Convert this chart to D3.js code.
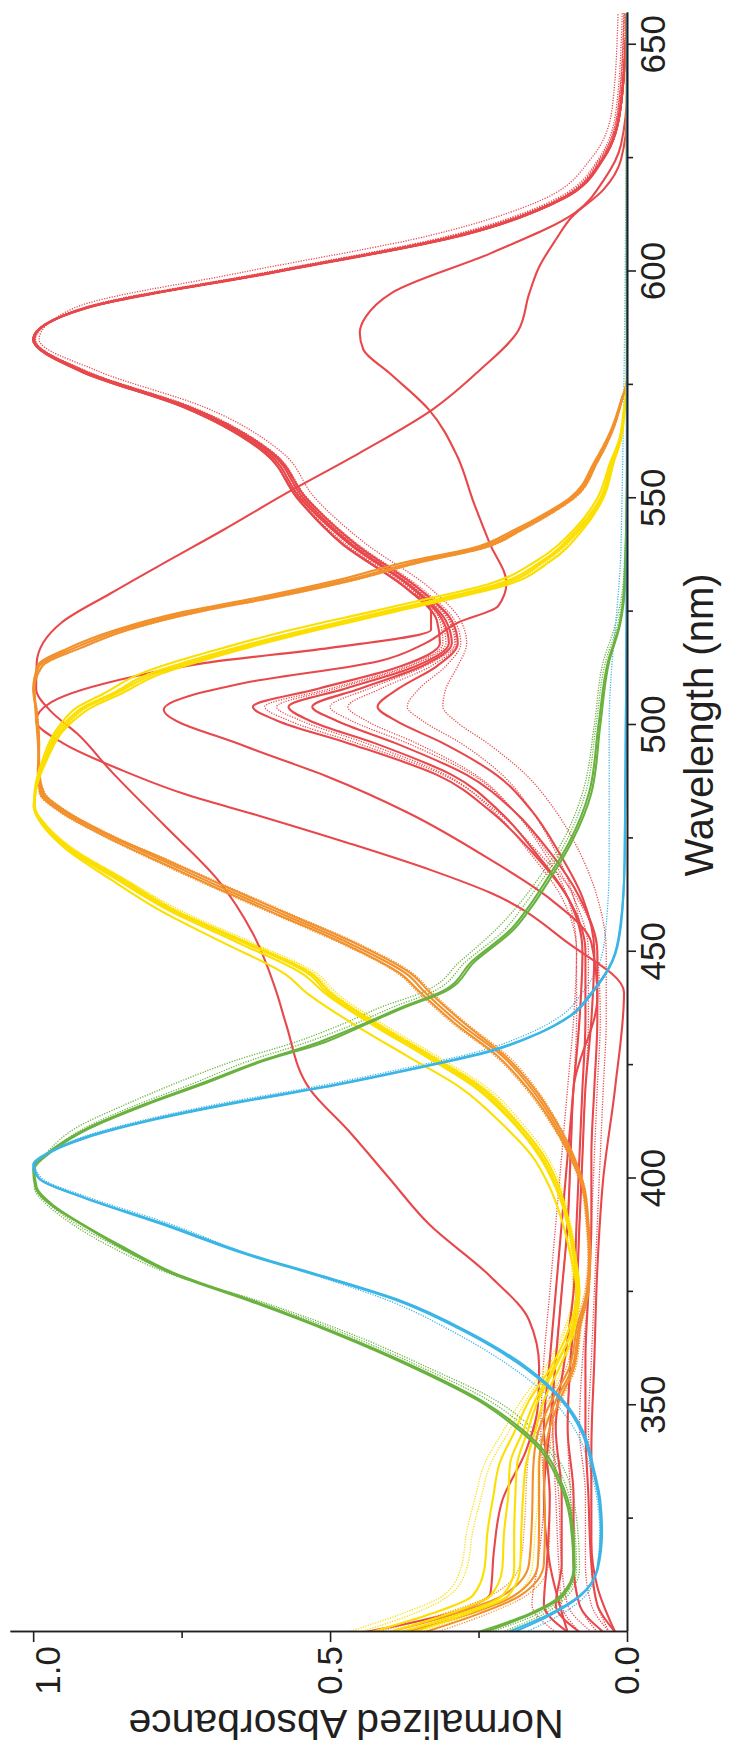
<!DOCTYPE html>
<html>
<head>
<meta charset="utf-8">
<script src="https://cdn.jsdelivr.net/npm/d3@7"></script>
<style>
  html, body { margin: 0; padding: 0; background: #fff; }
  svg { display: block; }
</style>
</head>
<body>
<div id="chart"></div>
<script>
// ---- data (wavelength in nm, normalized absorbance) ----

const greenNm = [300, 304, 308, 314, 325, 334, 340, 345, 351, 358, 366, 373, 379, 385, 390, 394, 398, 402, 406, 411,
  416, 421, 426, 430, 434, 438, 441, 448, 455, 460, 466, 474, 485, 500, 514, 522, 532, 560, 657];
const greenSolid = [
  [0.24, 0.16, 0.108, 0.088, 0.093, 0.114, 0.14, 0.18, 0.245, 0.35, 0.49, 0.63, 0.76, 0.85, 0.918, 0.965, 0.994, 0.998, 0.968, 0.906,
   0.815, 0.71, 0.61, 0.51, 0.44, 0.37, 0.31, 0.255, 0.19, 0.16, 0.13, 0.094, 0.06, 0.045, 0.03, 0.012, 0.003, 0.0, 0.0],
  [0.25, 0.165, 0.112, 0.09, 0.096, 0.118, 0.145, 0.186, 0.25, 0.355, 0.495, 0.635, 0.765, 0.855, 0.92, 0.968, 0.996, 1.0, 0.972, 0.91,
   0.82, 0.716, 0.615, 0.52, 0.445, 0.375, 0.315, 0.26, 0.195, 0.165, 0.135, 0.098, 0.064, 0.048, 0.032, 0.013, 0.004, 0.0, 0.0]
];
const greenDotted = [
  [0.21, 0.14, 0.1, 0.08, 0.085, 0.1, 0.125, 0.16, 0.22, 0.33, 0.47, 0.62, 0.77, 0.87, 0.935, 0.975, 0.998, 0.998, 0.975, 0.93,
   0.85, 0.76, 0.66, 0.56, 0.48, 0.41, 0.345, 0.28, 0.22, 0.185, 0.15, 0.11, 0.075, 0.055, 0.04, 0.02, 0.006, 0.0, 0.0],
  [0.23, 0.15, 0.105, 0.085, 0.09, 0.108, 0.132, 0.17, 0.232, 0.34, 0.48, 0.625, 0.765, 0.86, 0.928, 0.97, 0.996, 0.999, 0.97, 0.915,
   0.83, 0.73, 0.635, 0.54, 0.46, 0.39, 0.33, 0.27, 0.205, 0.175, 0.142, 0.104, 0.07, 0.052, 0.036, 0.016, 0.005, 0.0, 0.0]
];

const blueNm = [300, 304, 308, 314, 322, 329, 336, 344, 351, 358, 366, 373, 378, 383, 390, 396, 400, 403, 406, 409,
  413, 417, 420, 424, 428, 432, 436, 441, 448, 456, 470, 500, 540, 657];
const blueSolid = [
  [0.20, 0.13, 0.08, 0.049, 0.042, 0.045, 0.056, 0.073, 0.107, 0.165, 0.265, 0.38, 0.5, 0.63, 0.78, 0.918, 0.99, 1.0, 0.97, 0.915,
   0.80, 0.65, 0.52, 0.37, 0.235, 0.15, 0.095, 0.06, 0.025, 0.011, 0.004, 0.002, 0.0, 0.0],
  [0.19, 0.125, 0.078, 0.05, 0.044, 0.047, 0.058, 0.076, 0.11, 0.17, 0.27, 0.385, 0.505, 0.635, 0.785, 0.92, 0.99, 0.998, 0.968, 0.91,
   0.795, 0.645, 0.515, 0.365, 0.23, 0.148, 0.093, 0.058, 0.024, 0.01, 0.004, 0.002, 0.0, 0.0]
];
const blueDotted = [
  [0.17, 0.11, 0.07, 0.05, 0.046, 0.05, 0.062, 0.085, 0.125, 0.19, 0.29, 0.4, 0.51, 0.63, 0.77, 0.91, 0.985, 0.997, 0.97, 0.92,
   0.81, 0.665, 0.535, 0.385, 0.25, 0.165, 0.11, 0.075, 0.045, 0.035, 0.03, 0.03, 0.01, 0.0]
];

const yellowNm = [300, 304, 308, 314, 322, 330, 337, 344, 351, 358, 366, 375, 383, 390, 398, 405, 412, 420, 427, 434,
  441, 445, 452, 459, 466, 473, 478, 482, 486, 492, 500, 504, 507, 511, 514, 517, 521, 525, 528, 531,
  536, 543, 550, 558, 563, 569, 576, 657];
const yellowSolid = [
  [0.40, 0.30, 0.23, 0.21, 0.207, 0.2, 0.197, 0.176, 0.155, 0.125, 0.093, 0.08, 0.087, 0.097, 0.114, 0.14, 0.183, 0.245, 0.33, 0.42,
   0.50, 0.53, 0.64, 0.76, 0.85, 0.94, 0.98, 0.998, 0.995, 0.98, 0.945, 0.91, 0.86, 0.80, 0.73, 0.65, 0.53, 0.40, 0.30, 0.21,
   0.14, 0.08, 0.042, 0.025, 0.011, 0.005, 0.0, 0.0],
  [0.36, 0.27, 0.2, 0.18, 0.178, 0.175, 0.17, 0.155, 0.14, 0.115, 0.09, 0.082, 0.09, 0.1, 0.12, 0.148, 0.19, 0.255, 0.34, 0.43,
   0.51, 0.545, 0.655, 0.77, 0.86, 0.945, 0.982, 0.999, 0.995, 0.978, 0.94, 0.9, 0.85, 0.79, 0.72, 0.64, 0.52, 0.39, 0.29, 0.2,
   0.13, 0.075, 0.04, 0.022, 0.01, 0.004, 0.0, 0.0],
  [0.43, 0.33, 0.26, 0.24, 0.235, 0.225, 0.215, 0.19, 0.165, 0.13, 0.1, 0.085, 0.09, 0.1, 0.118, 0.145, 0.188, 0.25, 0.335, 0.425,
   0.505, 0.535, 0.645, 0.765, 0.855, 0.942, 0.98, 0.997, 0.996, 0.982, 0.95, 0.915, 0.865, 0.81, 0.74, 0.66, 0.54, 0.41, 0.31, 0.22,
   0.145, 0.085, 0.045, 0.026, 0.012, 0.005, 0.0, 0.0],
  [0.38, 0.28, 0.21, 0.19, 0.19, 0.188, 0.185, 0.168, 0.15, 0.122, 0.095, 0.085, 0.095, 0.108, 0.13, 0.16, 0.21, 0.28, 0.37, 0.46,
   0.54, 0.575, 0.68, 0.785, 0.87, 0.948, 0.985, 0.999, 0.997, 0.985, 0.955, 0.925, 0.88, 0.825, 0.76, 0.68, 0.565, 0.43, 0.33, 0.235,
   0.155, 0.09, 0.05, 0.028, 0.013, 0.006, 0.0, 0.0]
];
const yellowDotted = [
  [0.45, 0.36, 0.3, 0.27, 0.26, 0.245, 0.23, 0.2, 0.17, 0.135, 0.105, 0.09, 0.092, 0.1, 0.115, 0.14, 0.18, 0.24, 0.325, 0.415,
   0.495, 0.525, 0.635, 0.755, 0.845, 0.935, 0.978, 0.997, 0.995, 0.98, 0.948, 0.912, 0.862, 0.805, 0.735, 0.655, 0.535, 0.405, 0.305, 0.215,
   0.142, 0.082, 0.043, 0.024, 0.011, 0.005, 0.0, 0.0],
  [0.35, 0.26, 0.19, 0.16, 0.155, 0.15, 0.15, 0.14, 0.13, 0.11, 0.088, 0.08, 0.085, 0.095, 0.11, 0.135, 0.175, 0.235, 0.32, 0.41,
   0.49, 0.52, 0.63, 0.75, 0.845, 0.935, 0.978, 0.997, 0.994, 0.978, 0.942, 0.905, 0.855, 0.795, 0.725, 0.645, 0.525, 0.395, 0.295, 0.205,
   0.135, 0.078, 0.041, 0.023, 0.01, 0.004, 0.0, 0.0],
  [0.47, 0.38, 0.31, 0.28, 0.27, 0.255, 0.24, 0.21, 0.178, 0.14, 0.108, 0.092, 0.094, 0.102, 0.118, 0.142, 0.182, 0.242, 0.328, 0.418,
   0.498, 0.528, 0.64, 0.758, 0.848, 0.938, 0.98, 0.998, 0.996, 0.982, 0.95, 0.915, 0.868, 0.812, 0.742, 0.662, 0.542, 0.412, 0.31, 0.22,
   0.145, 0.084, 0.044, 0.025, 0.011, 0.005, 0.0, 0.0]
];

const orangeNm = [300, 304, 308, 315, 325, 336, 344, 351, 358, 368, 375, 383, 390, 398, 405, 412, 420, 427, 434, 441,
  445, 452, 458, 464, 470, 476, 481, 485, 490, 496, 503, 508, 513, 517, 521, 525, 528, 532, 536, 539,
  543, 547, 550, 558, 565, 572, 576, 657];
const orangeSolid = [
  [0.37, 0.265, 0.19, 0.15, 0.148, 0.148, 0.14, 0.12, 0.093, 0.08, 0.066, 0.063, 0.066, 0.073, 0.093, 0.121, 0.162, 0.21, 0.28, 0.34,
   0.37, 0.47, 0.575, 0.68, 0.78, 0.88, 0.95, 0.985, 0.99, 0.99, 0.995, 1.0, 0.99, 0.93, 0.85, 0.73, 0.61, 0.47, 0.355, 0.25,
   0.183, 0.128, 0.093, 0.052, 0.025, 0.008, 0.0, 0.0],
  [0.34, 0.25, 0.18, 0.14, 0.138, 0.14, 0.132, 0.114, 0.09, 0.078, 0.065, 0.062, 0.065, 0.072, 0.09, 0.117, 0.157, 0.205, 0.272, 0.332,
   0.362, 0.46, 0.565, 0.67, 0.772, 0.875, 0.945, 0.982, 0.99, 0.992, 0.996, 0.998, 0.985, 0.92, 0.84, 0.72, 0.6, 0.46, 0.345, 0.243,
   0.178, 0.124, 0.09, 0.05, 0.024, 0.008, 0.0, 0.0],
  [0.40, 0.29, 0.21, 0.165, 0.16, 0.158, 0.15, 0.127, 0.098, 0.083, 0.068, 0.064, 0.067, 0.075, 0.096, 0.125, 0.168, 0.218, 0.288, 0.348,
   0.38, 0.48, 0.585, 0.69, 0.79, 0.887, 0.955, 0.988, 0.992, 0.99, 0.994, 0.999, 0.993, 0.94, 0.86, 0.745, 0.625, 0.485, 0.37, 0.26,
   0.19, 0.133, 0.097, 0.055, 0.027, 0.009, 0.0, 0.0]
];
const orangeDotted = [
  [0.42, 0.31, 0.23, 0.18, 0.172, 0.168, 0.158, 0.133, 0.103, 0.087, 0.071, 0.066, 0.069, 0.077, 0.098, 0.128, 0.172, 0.222, 0.292, 0.352,
   0.384, 0.485, 0.59, 0.695, 0.795, 0.89, 0.958, 0.99, 0.993, 0.99, 0.993, 0.998, 0.99, 0.935, 0.858, 0.742, 0.622, 0.482, 0.367, 0.257,
   0.188, 0.132, 0.096, 0.054, 0.026, 0.009, 0.0, 0.0],
  [0.32, 0.235, 0.17, 0.132, 0.13, 0.132, 0.126, 0.11, 0.087, 0.076, 0.064, 0.061, 0.064, 0.071, 0.089, 0.115, 0.154, 0.2, 0.268, 0.328,
   0.358, 0.455, 0.56, 0.665, 0.768, 0.872, 0.943, 0.98, 0.99, 0.991, 0.995, 0.997, 0.983, 0.918, 0.836, 0.716, 0.596, 0.456, 0.342, 0.24,
   0.176, 0.122, 0.088, 0.049, 0.023, 0.007, 0.0, 0.0]
];

const redNm = [300, 306, 315, 330, 345, 360, 375, 390, 405, 420, 435, 450, 462, 472, 481, 489, 496, 501, 504, 508,
  513, 518, 523, 530, 540, 550, 560, 570, 578, 585, 592, 600, 608, 616, 625, 636, 657];
const redSolid = [
  [0.08, 0.12, 0.11, 0.11, 0.12, 0.105, 0.09, 0.085, 0.08, 0.075, 0.07, 0.07, 0.1, 0.16, 0.23, 0.32, 0.47, 0.59, 0.63, 0.52,
   0.38, 0.315, 0.32, 0.37, 0.48, 0.555, 0.61, 0.745, 0.92, 1.0, 0.91, 0.59, 0.28, 0.11, 0.04, 0.011, 0.0],
  [0.10, 0.14, 0.135, 0.13, 0.14, 0.13, 0.12, 0.11, 0.1, 0.09, 0.08, 0.075, 0.1, 0.155, 0.215, 0.295, 0.425, 0.535, 0.57, 0.475,
   0.355, 0.3, 0.31, 0.36, 0.468, 0.55, 0.605, 0.742, 0.918, 1.0, 0.912, 0.59, 0.28, 0.11, 0.04, 0.011, 0.0],
  [0.02, 0.05, 0.06, 0.065, 0.07, 0.07, 0.065, 0.06, 0.06, 0.055, 0.05, 0.05, 0.08, 0.13, 0.19, 0.27, 0.39, 0.49, 0.53, 0.45,
   0.345, 0.295, 0.305, 0.358, 0.465, 0.545, 0.6, 0.738, 0.915, 0.999, 0.908, 0.585, 0.276, 0.108, 0.039, 0.011, 0.0],
  [0.04, 0.08, 0.09, 0.09, 0.1, 0.095, 0.085, 0.08, 0.075, 0.07, 0.06, 0.055, 0.075, 0.115, 0.16, 0.22, 0.31, 0.39, 0.42, 0.385,
   0.32, 0.285, 0.295, 0.35, 0.458, 0.54, 0.597, 0.735, 0.915, 1.0, 0.91, 0.588, 0.278, 0.108, 0.039, 0.011, 0.0]
];
const redDotted = [
  [0.03, 0.06, 0.07, 0.07, 0.08, 0.075, 0.065, 0.06, 0.055, 0.05, 0.045, 0.05, 0.085, 0.15, 0.22, 0.31, 0.455, 0.57, 0.61, 0.5,
   0.37, 0.31, 0.315, 0.365, 0.475, 0.552, 0.605, 0.74, 0.915, 0.998, 0.915, 0.6, 0.29, 0.115, 0.045, 0.015, 0.005],
  [0.06, 0.1, 0.11, 0.115, 0.125, 0.12, 0.11, 0.1, 0.095, 0.09, 0.085, 0.085, 0.11, 0.165, 0.225, 0.305, 0.44, 0.55, 0.59, 0.49,
   0.365, 0.305, 0.312, 0.362, 0.47, 0.548, 0.6, 0.738, 0.912, 0.997, 0.91, 0.585, 0.275, 0.108, 0.04, 0.012, 0.002],
  [0.05, 0.08, 0.09, 0.095, 0.1, 0.095, 0.085, 0.08, 0.075, 0.07, 0.065, 0.065, 0.09, 0.135, 0.19, 0.26, 0.37, 0.465, 0.50, 0.435,
   0.34, 0.29, 0.3, 0.355, 0.462, 0.543, 0.598, 0.735, 0.912, 0.998, 0.91, 0.59, 0.285, 0.112, 0.042, 0.014, 0.004],
  [0.12, 0.16, 0.15, 0.14, 0.145, 0.14, 0.13, 0.12, 0.11, 0.1, 0.09, 0.085, 0.1, 0.14, 0.19, 0.255, 0.355, 0.44, 0.47, 0.415,
   0.33, 0.288, 0.298, 0.352, 0.46, 0.54, 0.595, 0.732, 0.91, 0.997, 0.912, 0.595, 0.29, 0.115, 0.044, 0.015, 0.005],
  [0.08, 0.11, 0.115, 0.12, 0.125, 0.12, 0.11, 0.1, 0.095, 0.09, 0.08, 0.075, 0.09, 0.12, 0.16, 0.21, 0.28, 0.345, 0.37, 0.35,
   0.305, 0.28, 0.29, 0.345, 0.455, 0.538, 0.595, 0.73, 0.91, 0.996, 0.915, 0.6, 0.295, 0.12, 0.047, 0.018, 0.008],
  [0.03, 0.05, 0.06, 0.06, 0.065, 0.06, 0.055, 0.05, 0.045, 0.04, 0.035, 0.035, 0.05, 0.08, 0.12, 0.17, 0.235, 0.29, 0.31, 0.305,
   0.285, 0.27, 0.28, 0.33, 0.44, 0.525, 0.58, 0.71, 0.89, 0.99, 0.93, 0.64, 0.33, 0.14, 0.06, 0.025, 0.015]
];

// odd red spectra, as [nm, A] pairs
const redBroad = [[300, 0.44], [304, 0.3], [308.5, 0.23], [318, 0.224], [329, 0.21], [340, 0.17], [350, 0.15], [358.5, 0.148],
  [368.8, 0.165], [378.4, 0.23], [390, 0.334], [400, 0.40], [410.7, 0.47], [419.5, 0.533], [434, 0.574], [441, 0.59], [454, 0.63],
  [466, 0.69], [478, 0.78], [490, 0.87], [498, 0.925], [503, 0.97], [508, 0.995], [513.7, 0.994], [522.5, 0.953], [529, 0.87],
  [535.7, 0.78], [543, 0.68], [551, 0.575], [560, 0.45], [569.6, 0.327], [578, 0.25], [587, 0.183], [595, 0.165], [601, 0.148],
  [607, 0.12], [612, 0.093], [618, 0.04], [624.7, 0.01], [635, 0.0], [657, 0.0]];
const redLowPeak = [[300, 0.1], [315, 0.13], [330, 0.14], [345, 0.13], [360, 0.12], [375, 0.11], [390, 0.1], [405, 0.095],
  [420, 0.09], [440, 0.05], [452, 0.06], [461.5, 0.128], [470.3, 0.23], [480.6, 0.368], [488.7, 0.506], [495.3, 0.643],
  [503.4, 0.78], [509.3, 0.643], [514, 0.42], [518, 0.34], [522.5, 0.286], [526.2, 0.217], [531.3, 0.203], [540, 0.231],
  [549, 0.258], [559.3, 0.286], [569.6, 0.334], [577.6, 0.40], [582.8, 0.444], [586.5, 0.45], [590, 0.44], [595.3, 0.396],
  [604, 0.23], [613, 0.087], [620, 0.04], [628, 0.01], [640, 0.0], [657, 0.0]];
const redTwoPeak = [[300, 0.02], [310, 0.05], [320, 0.06], [340, 0.06], [360, 0.055], [380, 0.05], [400, 0.04], [420, 0.02],
  [441, 0.005], [452, 0.1], [463, 0.23], [468, 0.33], [474, 0.47], [480, 0.62], [485, 0.75], [490, 0.85], [496, 0.95],
  [501, 0.995], [505, 0.97], [510.7, 0.83], [513.7, 0.71], [517, 0.5], [521, 0.33], [525, 0.33], [530, 0.37], [540, 0.48],
  [550, 0.555], [560, 0.61], [570, 0.745], [578, 0.92], [585, 1.0], [592, 0.91], [600, 0.59], [608, 0.28], [616, 0.11],
  [625, 0.04], [636, 0.011], [657, 0.0]];

const xMajorTicks = [350, 400, 450, 500, 550, 600, 650];
const xMinorTicks = [325, 375, 425, 475, 525, 575, 625];
const yMajorTicks = [0, 0.5, 1];
const yMinorTicks = [0.25, 0.75];

const colors = { red: "#e8484b", orange: "#f2912c", yellow: "#fbdf00", green: "#6ab23f", blue: "#3bb5e6" };

// ---- build series list ----
const curves = [];
function addRows(nm, rows, color, dotted) {
  rows.forEach(a => curves.push({ color, dotted, pts: nm.map((w, i) => [w, a[i]]) }));
}
addRows(redNm, redDotted, colors.red, true);
addRows(orangeNm, orangeDotted, colors.orange, true);
addRows(yellowNm, yellowDotted, colors.yellow, true);
addRows(greenNm, greenDotted, colors.green, true);
addRows(blueNm, blueDotted, colors.blue, true);
addRows(redNm, redSolid, colors.red, false);
[redBroad, redLowPeak, redTwoPeak].forEach(p => curves.push({ color: colors.red, dotted: false, pts: p }));
addRows(orangeNm, orangeSolid, colors.orange, false);
addRows(yellowNm, yellowSolid, colors.yellow, false);
addRows(greenNm, greenSolid, colors.green, false);
addRows(blueNm, blueSolid, colors.blue, false);

// ---- drawing: a normal chart, turned a quarter turn counter-clockwise ----
const pageW = 735, pageH = 1753;
const font = "'Liberation Sans', Arial, sans-serif";

const svg = d3.select("#chart").append("svg")
  .attr("width", pageW)
  .attr("height", pageH);

const g = svg.append("g").attr("transform", `translate(0,${pageH}) rotate(-90)`);

const x = d3.scaleLinear().domain([300, 657]).range([121, 1740]);
const y = d3.scaleLinear().domain([0, 1.039]).range([627, 10]);

g.append("clipPath").attr("id", "plot")
  .append("rect")
  .attr("x", x(300)).attr("y", y(1.039) - 2)
  .attr("width", x(657) - x(300)).attr("height", y(0) - y(1.039) + 2);

const line = d3.line()
  .curve(d3.curveMonotoneX)
  .x(d => x(d[0]))
  .y(d => y(d[1]));

g.append("g")
  .attr("clip-path", "url(#plot)")
  .selectAll("path")
  .data(curves)
  .join("path")
  .attr("d", d => line(d.pts))
  .attr("fill", "none")
  .attr("stroke", d => d.color)
  .attr("stroke-width", d => d.dotted ? 1.3 : 2.1)
  .attr("stroke-dasharray", d => d.dotted ? "1.2 1.4" : null)
  .attr("stroke-linejoin", "round");

// wavelength axis
const xAxisG = g.append("g").attr("transform", `translate(0,${y(0)})`);
xAxisG.append("g")
  .call(d3.axisBottom(x).tickValues(xMinorTicks).tickSize(6).tickSizeOuter(0).tickFormat(""));
xAxisG.append("g")
  .call(d3.axisBottom(x).tickValues(xMajorTicks).tickSize(9).tickSizeOuter(0).tickPadding(4))
  .call(a => a.selectAll("text").attr("font-size", 35).attr("font-family", font).attr("fill", "#231f20"));

// absorbance axis
const yAxisG = g.append("g").attr("transform", `translate(${x(300)},0)`);
yAxisG.append("g")
  .call(d3.axisLeft(y).tickValues(yMinorTicks).tickSize(6).tickSizeOuter(0).tickFormat(""));
yAxisG.append("g")
  .call(d3.axisLeft(y).tickValues(yMajorTicks).tickSize(10).tickSizeOuter(0).tickPadding(4).tickFormat(d3.format(".1f")))
  .call(a => a.selectAll("text")
    .attr("font-size", 35).attr("font-family", font).attr("fill", "#231f20")
    .attr("dy", d => d === 1 ? "0.75em" : "0.33em"));

g.selectAll(".domain, .tick line").attr("stroke", "#231f20").attr("stroke-width", 1.6);

// titles
g.append("text")
  .attr("x", 1028).attr("y", 713)
  .attr("text-anchor", "middle")
  .attr("font-family", font).attr("font-size", 40).attr("fill", "#231f20")
  .text("Wavelength (nm)");

g.append("text")
  .attr("transform", `translate(43,346) rotate(-90)`)
  .attr("text-anchor", "middle")
  .attr("font-family", font).attr("font-size", 41).attr("fill", "#231f20")
  .text("Normalized Absorbance");
</script>
</body>
</html>
